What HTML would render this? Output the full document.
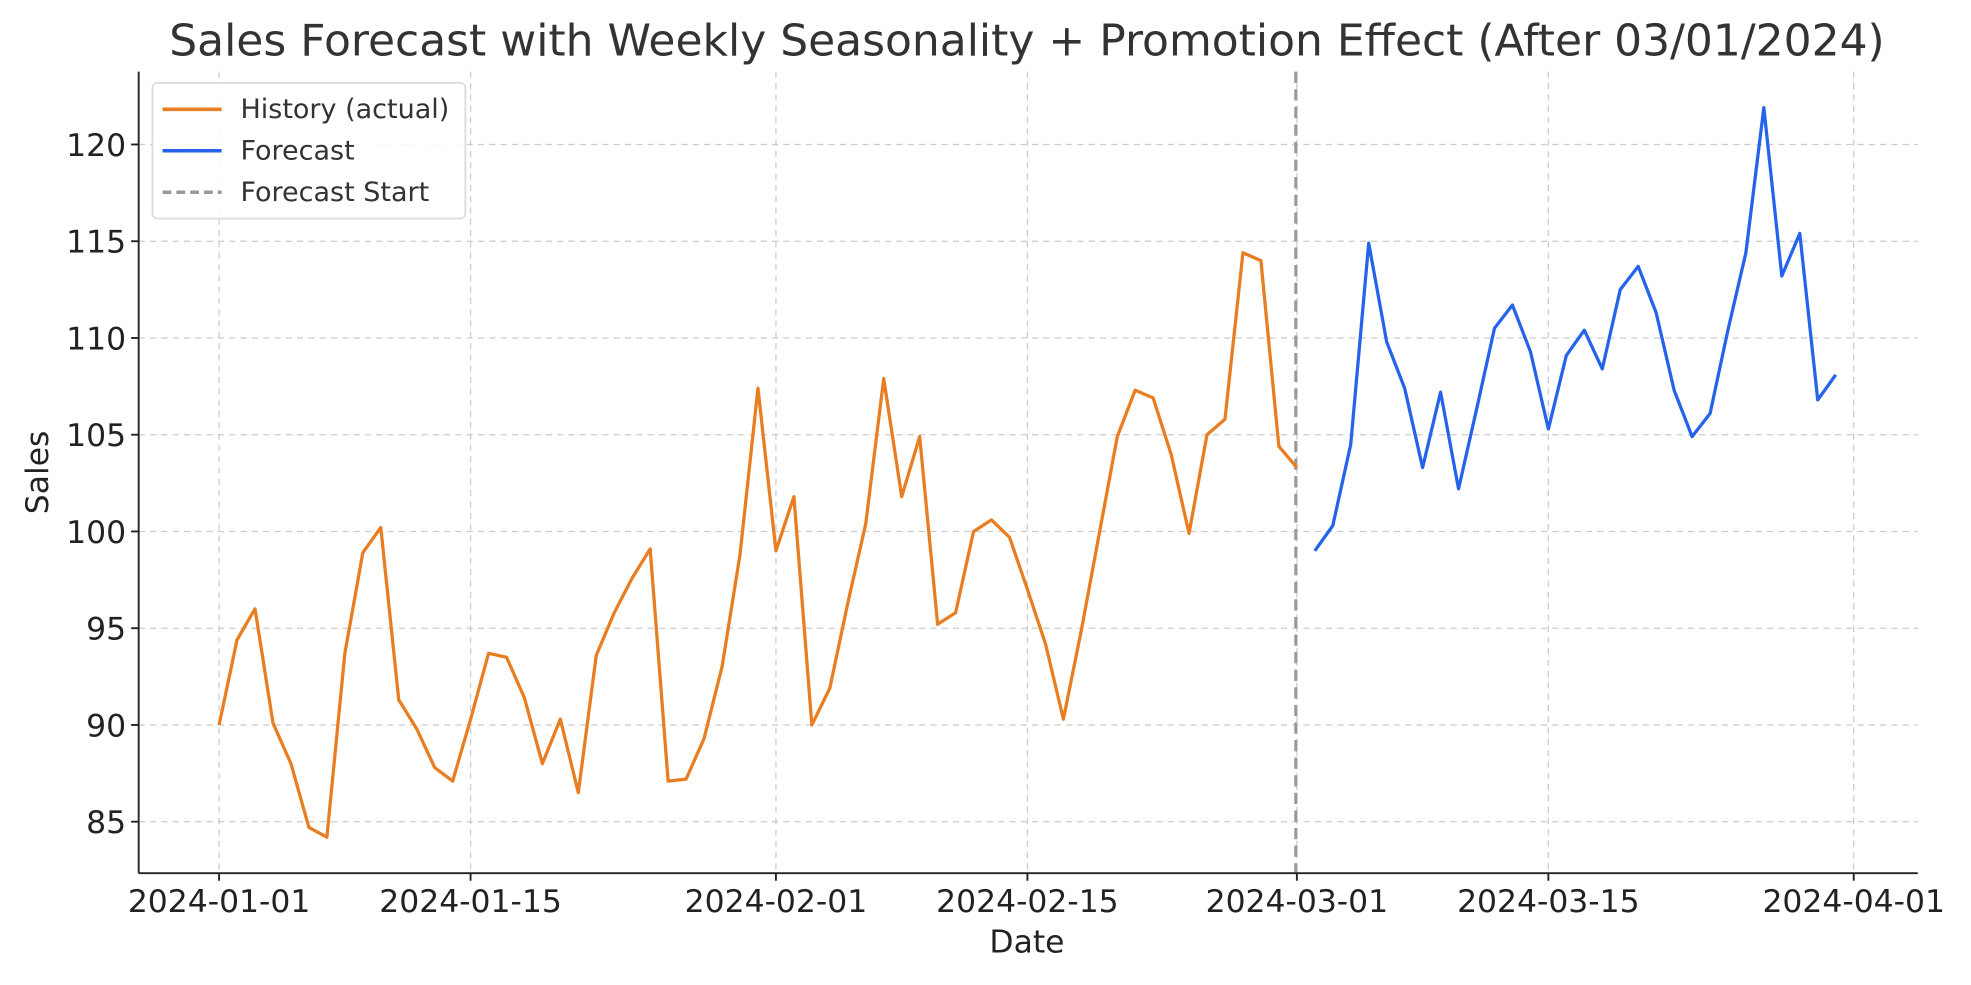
<!DOCTYPE html>
<html><head><meta charset="utf-8"><style>
html,body{margin:0;padding:0;background:#fff;}
svg text{font-family:"DejaVu Sans","Liberation Sans",sans-serif;}
</style></head><body>
<svg id="s" width="1971" height="980" viewBox="0 0 1568 780" xmlns="http://www.w3.org/2000/svg">
<rect width="1568" height="780" fill="#fff"/>
<text x="817" y="44" font-size="35" fill="#333" text-anchor="middle">Sales Forecast with Weekly Seasonality + Promotion Effect (After 03/01/2024)</text>
<g id="grid" stroke="#ccc" stroke-width="1" stroke-dasharray="5,4"></g>
<g id="ticks"></g>
<line x1="1031" y1="57" x2="1031" y2="695" stroke="#999" stroke-width="2.5" stroke-dasharray="9,5"/>
<polyline id="hist" fill="none" stroke="#e87d22" stroke-width="2.6" stroke-linejoin="round"/>
<polyline id="fc" fill="none" stroke="#2563eb" stroke-width="2.6" stroke-linejoin="round"/>
<line x1="110" y1="57" x2="110" y2="695" stroke="#222" stroke-width="1.5"/>
<line x1="110" y1="695" x2="1526" y2="695" stroke="#222" stroke-width="1.5"/>
<text x="817" y="758" font-size="25" fill="#222" text-anchor="middle">Date</text>
<text transform="translate(38,376) rotate(-90)" font-size="25" fill="#222" text-anchor="middle">Sales</text>
<g>
<rect x="121" y="66" width="249" height="108" rx="4" fill="#fff" fill-opacity="0.85" stroke="#ddd" stroke-width="1.5"/>
<line x1="129" y1="87" x2="176" y2="87" stroke="#e87d22" stroke-width="2.8"/>
<text x="191" y="94" font-size="21.5" fill="#333">History (actual)</text>
<line x1="129" y1="120" x2="176" y2="120" stroke="#2563eb" stroke-width="2.8"/>
<text x="191" y="127" font-size="21.5" fill="#333">Forecast</text>
<line x1="129" y1="153" x2="176" y2="153" stroke="#999" stroke-width="2.8" stroke-dasharray="7,4"/>
<text x="191" y="160" font-size="21.5" fill="#333">Forecast Start</text>
</g>
</svg>
<script>
var ns="http://www.w3.org/2000/svg";
function Y(v){return 423-(v-100)*15.4;}
function X(i){return 174+14.297*i;}
var g=document.getElementById('grid'),t=document.getElementById('ticks');
function el(p,tag,a,txt){var e=document.createElementNS(ns,tag);for(var k in a)e.setAttribute(k,a[k]);if(txt)e.textContent=txt;p.appendChild(e);}
[85,90,95,100,105,110,115,120].forEach(function(v){var y=Y(v);
el(g,'line',{x1:110,x2:1526,y1:y,y2:y});
el(t,'line',{x1:104,x2:110,y1:y,y2:y,stroke:'#222','stroke-width':1.5});
el(t,'text',{x:100,y:y+9,'font-size':25,fill:'#222','text-anchor':'end'},String(v));});
[[0,'2024-01-01'],[14,'2024-01-15'],[31,'2024-02-01'],[45,'2024-02-15'],[60,'2024-03-01'],[74,'2024-03-15'],[91,'2024-04-01']].forEach(function(d){var x=X(d[0]);
el(g,'line',{x1:x,x2:x,y1:57,y2:695});
el(t,'line',{x1:x,x2:x,y1:695,y2:701,stroke:'#222','stroke-width':1.5});
el(t,'text',{x:x,y:726,'font-size':25,fill:'#222','text-anchor':'middle'},d[1]);});
var h=[90.0,94.4,96.0,90.1,88.0,84.7,84.2,93.7,98.9,100.2,91.3,89.8,87.8,87.1,90.3,93.7,93.5,91.4,88.0,90.3,86.5,93.6,95.8,97.6,99.1,87.1,87.2,89.3,93.0,98.8,107.4,99.0,101.8,90.0,91.9,96.3,100.4,107.9,101.8,104.9,95.2,95.8,100.0,100.6,99.7,97.0,94.2,90.3,94.9,99.9,104.9,107.3,106.9,104.0,99.9,105.0,105.8,114.4,114.0,104.4,103.3];
var f=[99.0,100.3,104.5,114.9,109.8,107.4,103.3,107.2,102.2,106.3,110.5,111.7,109.3,105.3,109.1,110.4,108.4,112.5,113.7,111.3,107.3,104.9,106.1,110.4,114.4,121.9,113.2,115.4,106.8,108.1];
document.getElementById('hist').setAttribute('points',h.map(function(v,i){return X(i).toFixed(1)+','+Y(v).toFixed(1);}).join(' '));
document.getElementById('fc').setAttribute('points',f.map(function(v,i){return X(i+61).toFixed(1)+','+Y(v).toFixed(1);}).join(' '));
</script>
</body></html>
